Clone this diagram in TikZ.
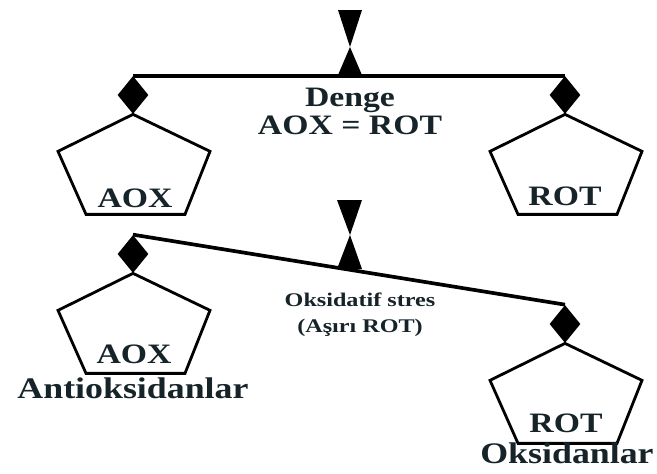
\documentclass[tikz,border=0pt]{standalone}
\usepackage{fontspec}
\setmainfont{Liberation Serif}
\usepackage{tikz}
\usetikzlibrary{positioning,shapes.geometric}
\definecolor{ink}{RGB}{22,36,42}

\begin{document}
\begin{tikzpicture}[x=0.02cm,y=-0.02cm,
    knob/.style={diamond,fill=black,inner sep=0pt,minimum width=0.62cm,minimum height=0.76cm},
    beam/.style={line width=2.1pt},
    pan/.style={line width=1.6pt,line join=miter},
    bigtxt/.style={font=\fontsize{16}{18}\selectfont\bfseries,text=ink,inner sep=0pt,anchor=base,xscale=1.2},
    nametxt/.style={font=\fontsize{17}{19}\selectfont\bfseries,text=ink,inner sep=0pt,anchor=base,xscale=1.2},
    smalltxt/.style={font=\fontsize{11}{13}\selectfont\bfseries,text=ink,inner sep=0pt,anchor=base,xscale=1.25}
]
\useasboundingbox (0,0) rectangle (657,474);

% balance in equilibrium
\fill (338,10) -- (362,10) -- (350,47) -- cycle;
\fill (350,47) -- (338,75) -- (362,75) -- cycle;
\node[knob] (aoxk) at (133,95) {};
\node[knob] (rotk) at (565,95) {};
\draw[beam] (aoxk.north) -- (rotk.north);
\draw[pan] (aoxk.south) -- ++(-75,37) -- ++(28,63) -- ++(99,0) -- ++(25,-63) -- cycle;
\draw[pan] (rotk.south) -- ++(-75,37) -- ++(28,63) -- ++(99,0) -- ++(25,-63) -- cycle;
\node[bigtxt] (denge) at (350,106) {Denge};
\node[bigtxt] (eq) at (350,134) {AOX = ROT};
\node[bigtxt] (aox1) at (135,207) {AOX};
\node[bigtxt] (rot1) at (565,205) {ROT};

% tilted balance
\fill (337,200) -- (362,200) -- (350,235) -- cycle;
\fill (350,235) -- (337,269) -- (362,269) -- cycle;
\node[knob] (aoxk2) at (133,254) {};
\node[knob] (rotk2) at (565,324) {};
\draw[beam] (aoxk2.north) -- (rotk2.north);
\draw[pan] (aoxk2.south) -- ++(-75,37) -- ++(28,63) -- ++(99,0) -- ++(25,-63) -- cycle;
\draw[pan] (rotk2.south) -- ++(-75,37) -- ++(28,63) -- ++(99,0) -- ++(25,-63) -- cycle;
\node[bigtxt] (aox2) at (134,363) {AOX};
\node[bigtxt] (rot2) at (566,432) {ROT};
\node[nametxt] (anti) at (133,398) {Antioksidanlar};
\node[nametxt] (oks) at (567,463) {Oksidanlar};
\node[smalltxt] (stres) at (360,306) {Oksidatif stres};
\node[smalltxt] (asiri) at (360,332) {(Aşırı ROT)};
\end{tikzpicture}
\end{document}
